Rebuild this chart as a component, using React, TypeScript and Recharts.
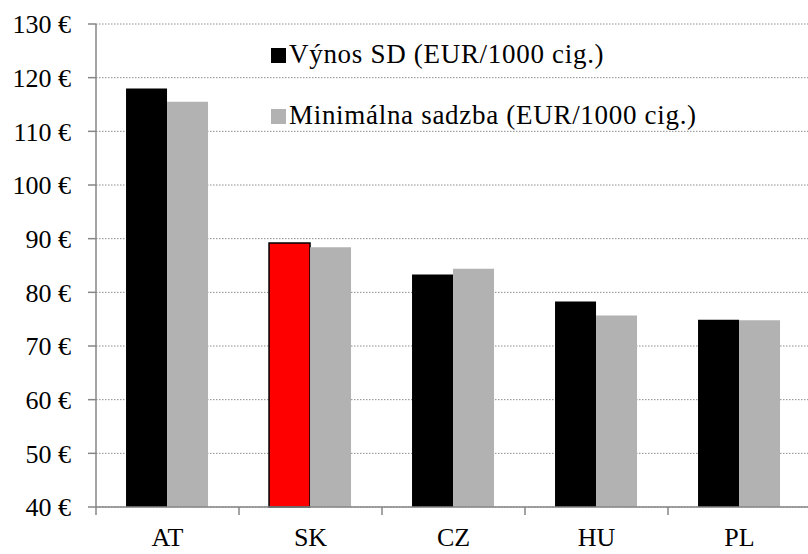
import { BarChart, Bar, XAxis, YAxis, CartesianGrid, Legend, Cell } from 'recharts';

const countries = ['AT', 'SK', 'CZ', 'HU', 'PL'];
const vynosSD = [118.0, 89.2, 83.3, 78.3, 74.9];
const minSadzba = [115.5, 88.4, 84.4, 75.7, 74.8];
const yTicks = [40, 50, 60, 70, 80, 90, 100, 110, 120, 130];
const seriesOrder = ['vynos', 'sadzba'];
const highlighted = 'SK';

const data = countries.map((c, i) => ({
  name: c,
  vynos: vynosSD[i],
  sadzba: minSadzba[i],
}));

const FONT = 'Liberation Serif, serif';
const AXIS = '#868686';
const TICK_SIZE = 8;
const TICK_MARGIN = 13;

function LegendBox({ payload }: any) {
  const items = [...(payload || [])].sort(
    (a: any, b: any) => seriesOrder.indexOf(a.dataKey) - seriesOrder.indexOf(b.dataKey)
  );
  return (
    <div
      style={{
        fontFamily: FONT,
        fontSize: 27,
        lineHeight: '61px',
        letterSpacing: 0.7,
        color: '#000',
        whiteSpace: 'nowrap',
      }}
    >
      {items.map((p: any) => (
        <div key={p.value}>
          <span
            style={{
              display: 'inline-block',
              width: 15,
              height: 15,
              background: p.color,
              marginRight: 3,
            }}
          />
          {p.value}
        </div>
      ))}
    </div>
  );
}

// category label, plus the tick mark on the left edge of its band
function CategoryTick({ x, y, payload }: any) {
  const edge = x - (payload?.offset ?? 0);
  const axisY = y - TICK_SIZE - TICK_MARGIN;
  return (
    <g>
      <line x1={edge} x2={edge} y1={axisY} y2={axisY + TICK_SIZE} stroke={AXIS} strokeWidth={1.5} />
      <text x={x} y={y} dy="0.71em" textAnchor="middle" fill="#000" fontFamily={FONT} fontSize={26}>
        {payload.value}
      </text>
    </g>
  );
}

export default function App() {
  return (
    <div style={{ position: 'absolute', left: 0, top: 0, width: 808, height: 554, overflow: 'hidden' }}>
      <BarChart
        width={811}
        height={554}
        data={data}
        margin={{ top: 24, right: 0, bottom: 0, left: 0 }}
        barCategoryGap="21%"
        barGap={0}
      >
        <CartesianGrid vertical={false} stroke="#8c8c8c" strokeDasharray="1.5 1.5" />
        <XAxis
          dataKey="name"
          height={47}
          axisLine={{ stroke: AXIS, strokeWidth: 1.5 }}
          tickLine={false}
          tickSize={TICK_SIZE}
          tickMargin={TICK_MARGIN}
          interval={0}
          tick={<CategoryTick />}
        />
        <YAxis
          domain={[40, 130]}
          ticks={yTicks}
          width={96}
          interval={0}
          axisLine={{ stroke: AXIS, strokeWidth: 1.5 }}
          tickLine={{ stroke: AXIS, strokeWidth: 1.5 }}
          tickSize={8}
          tickMargin={17}
          tickFormatter={(v: number) => `${v} €`}
          tick={{ fill: '#000', fontFamily: FONT, fontSize: 26 }}
        />
        <Legend
          layout="vertical"
          align="center"
          verticalAlign="middle"
          content={<LegendBox />}
          wrapperStyle={{ left: 271, top: 24, width: 'auto' }}
        />
        <Bar dataKey="vynos" name="Výnos SD (EUR/1000 cig.)" fill="#000000" isAnimationActive={false}>
          {data.map((d) => (
            <Cell
              key={d.name}
              fill={d.name === highlighted ? '#ff0000' : '#000000'}
              stroke={d.name === highlighted ? '#000000' : 'none'}
              strokeWidth={d.name === highlighted ? 1.5 : 0}
            />
          ))}
        </Bar>
        <Bar dataKey="sadzba" name="Minimálna sadzba (EUR/1000 cig.)" fill="#b2b2b2" isAnimationActive={false} />
      </BarChart>
    </div>
  );
}
